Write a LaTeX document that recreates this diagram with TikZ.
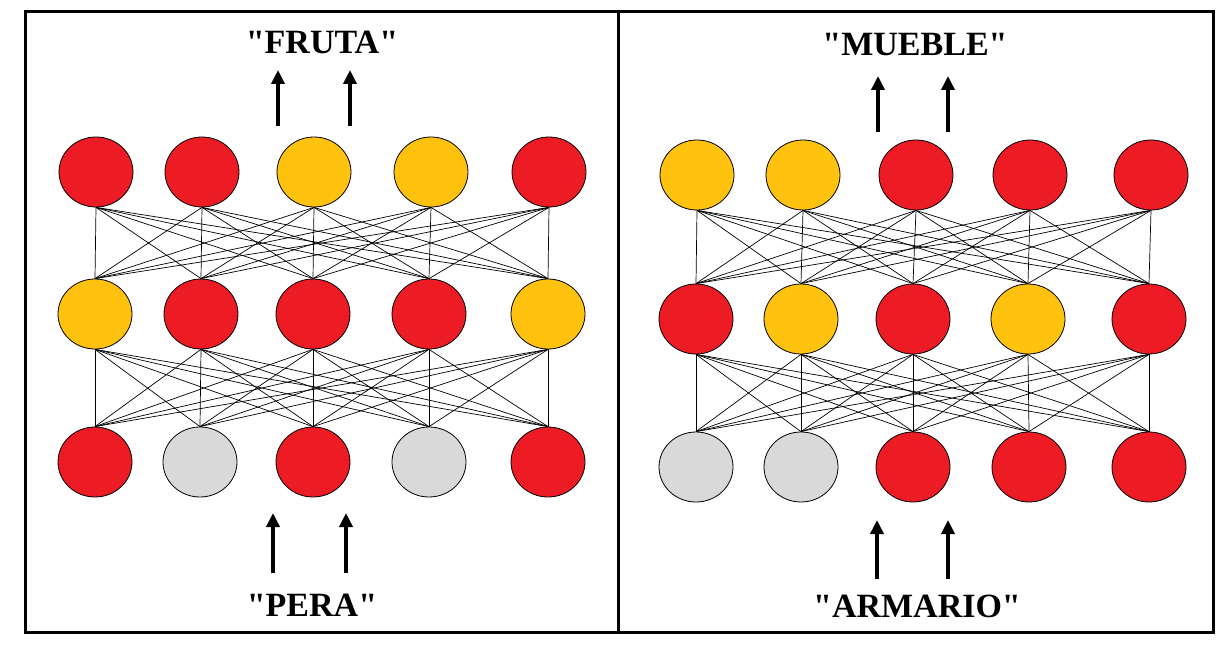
\documentclass[tikz,border=0pt]{standalone}
\usepackage{fontspec}
\newfontfamily\labelfont{Liberation Serif}
\usetikzlibrary{shapes.geometric,arrows.meta}
\definecolor{nred}{HTML}{ED1C24}
\definecolor{nyel}{HTML}{FFC20E}
\definecolor{ngry}{HTML}{D9D9D9}
\tikzset{
 neuron/.style={shape=ellipse,draw=black,line width=0.8pt,minimum width=74pt,minimum height=70pt,inner sep=0pt},
 link/.style={draw=black,line width=0.7pt},
 bigarrow/.style={line width=4pt,-{Triangle[length=14pt,width=13pt]}},
 label/.style={font=\labelfont\fontsize{34}{36}\selectfont\bfseries}
}
\begin{document}
\begin{tikzpicture}[x=1pt,y=-1pt]
\useasboundingbox (0,0) rectangle (1218,652);
\fill[white] (0,0) rectangle (1218,652);
\draw[line width=3pt] (25,12) rectangle (1213,632);
\draw[line width=3pt] (618,12) -- (618,632);
% left panel
\foreach \x/\c [count=\i] in {96/nred,202/nred,314/nyel,431/nyel,549/nred}
  \node[neuron,fill=\c] (LT\i) at (\x,172) {};
\foreach \x/\c [count=\i] in {95/nyel,201/nred,313/nred,429/nred,548/nyel}
  \node[neuron,fill=\c] (LM\i) at (\x,314) {};
\foreach \x/\c [count=\i] in {95/nred,200/ngry,313/nred,429/ngry,548/nred}
  \node[neuron,fill=\c] (LB\i) at (\x,462) {};
% right panel
\foreach \x/\c [count=\i] in {697/nyel,803/nyel,916/nred,1030/nred,1151/nred}
  \node[neuron,fill=\c] (RT\i) at (\x,175) {};
\foreach \x/\c [count=\i] in {696/nred,801/nyel,913/nred,1028/nyel,1149/nred}
  \node[neuron,fill=\c] (RM\i) at (\x,319) {};
\foreach \x/\c [count=\i] in {696/ngry,801/ngry,913/nred,1029/nred,1149/nred}
  \node[neuron,fill=\c] (RB\i) at (\x,467) {};
\foreach \p in {L,R}{
 \foreach \i in {1,...,5}{
  \foreach \j in {1,...,5}{
   \draw[link] (\p T\i.south) -- (\p M\j.north);
   \draw[link] (\p M\i.south) -- (\p B\j.north);
  }}}
% labels
\node[label] (fruta) at (322,42) {"FRUTA"};
\node[label] (pera) at (312,605) {"PERA"};
\node[label] (mueble) at (915,45) {"MUEBLE"};
\node[label] (armario) at (917,606) {"ARMARIO"};
\coordinate (a1s) at (278,126); \coordinate (a1e) at (278,70);
\coordinate (a2s) at (350,126); \coordinate (a2e) at (350,70);
\coordinate (a3s) at (273,573); \coordinate (a3e) at (273,513);
\coordinate (a4s) at (346,573); \coordinate (a4e) at (346,513);
\coordinate (a5s) at (878,132); \coordinate (a5e) at (878,76);
\coordinate (a6s) at (948,132); \coordinate (a6e) at (948,76);
\coordinate (a7s) at (877,579); \coordinate (a7e) at (877,520);
\coordinate (a8s) at (948,579); \coordinate (a8e) at (948,520);
\foreach \k in {1,...,8} \draw[bigarrow] (a\k s) -- (a\k e);
\end{tikzpicture}
\end{document}
